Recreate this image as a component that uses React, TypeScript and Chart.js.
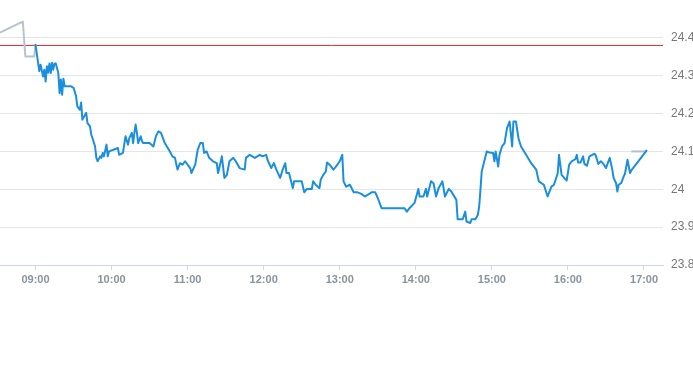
import React, { useEffect, useRef } from "react";
import { Chart, registerables } from "chart.js";

Chart.register(...registerables);

const hourLabels = ["09:00", "10:00", "11:00", "12:00", "13:00", "14:00", "15:00", "16:00", "17:00"];
const priceTicks = [23.8, 23.9, 24.0, 24.1, 24.2, 24.3, 24.4];
const prevClose = 24.38;
const axisStart = "08:32";
const axisEnd = "17:15";
const axisTop = 24.5;
const axisBottom = 23.8;

const preTimes = ["08:32", "08:50", "08:52", "08:59", "09:00"];
const prePrices = [24.414, 24.443, 24.351, 24.351, 24.382];

const postTimes = ["16:50", "17:02"];
const postPrices = [24.1, 24.1];

const sessionTimes = [
  "09:00","09:03","09:04","09:06","09:07","09:08","09:09","09:10","09:11","09:12","09:13","09:14","09:15","09:16","09:18","09:19","09:20","09:21","09:22","09:23","09:28","09:30","09:32","09:33","09:35","09:36","09:37","09:40","09:41","09:43","09:44","09:45","09:47","09:48","09:49","09:51","09:52","09:53","09:54","09:56","09:57","09:58",
  "10:02","10:05","10:06","10:09","10:11","10:13","10:14","10:16","10:17","10:18","10:19","10:20","10:21","10:23","10:24","10:25","10:30","10:33","10:35","10:37","10:39","10:42","10:46","10:48","10:50","10:52","10:54","10:56","10:58",
  "11:02","11:03","11:06","11:08","11:10","11:12","11:13","11:15","11:17","11:20","11:23","11:24","11:25","11:27","11:29","11:31","11:33","11:36","11:38","11:41","11:45","11:46","11:49","11:53","11:57","11:59",
  "12:02","12:03","12:06","12:08","12:10","12:13","12:15","12:17","12:18","12:20","12:23","12:24","12:30","12:32","12:34","12:38","12:39","12:41","12:44","12:45","12:47","12:49","12:50","12:52","12:55","12:57",
  "13:00","13:02","13:03","13:05","13:08","13:11","13:14","13:17","13:20","13:22","13:25","13:28","13:30","13:33","13:51","13:53","13:55","13:59",
  "14:02","14:03","14:06","14:08","14:09","14:12","14:14","14:16","14:18","14:21","14:23","14:26","14:28","14:32","14:33","14:37","14:39","14:40","14:43","14:44","14:47","14:49","14:50","14:51","14:52","14:54","14:56","14:58",
  "15:01","15:02","15:03","15:05","15:06","15:08","15:10","15:12","15:14","15:16","15:17","15:19","15:21","15:23","15:27","15:31","15:35","15:37","15:41","15:44","15:47","15:49","15:52","15:53","15:55","15:59",
  "16:01","16:03","16:06","16:07","16:08","16:10","16:12","16:13","16:15","16:17","16:21","16:22","16:24","16:26","16:28","16:30","16:31","16:33","16:35","16:36","16:38","16:39","16:40","16:42","16:44","16:45","16:47","16:49","16:50","17:02"
];

const sessionPrices = [
  24.382,24.312,24.329,24.298,24.316,24.285,24.325,24.308,24.332,24.307,24.334,24.316,24.332,24.332,24.307,24.254,24.290,24.250,24.292,24.272,24.272,24.268,24.246,24.219,24.210,24.229,24.184,24.202,24.175,24.166,24.144,24.135,24.113,24.083,24.074,24.087,24.083,24.096,24.087,24.118,24.087,24.100,
  24.105,24.109,24.091,24.096,24.140,24.118,24.135,24.149,24.122,24.149,24.171,24.149,24.122,24.140,24.127,24.122,24.122,24.113,24.140,24.153,24.149,24.122,24.100,24.087,24.083,24.052,24.069,24.065,24.074,
  24.056,24.043,24.065,24.105,24.122,24.122,24.096,24.100,24.083,24.074,24.069,24.043,24.056,24.087,24.030,24.038,24.074,24.083,24.074,24.056,24.052,24.083,24.091,24.083,24.091,24.087,
  24.091,24.078,24.056,24.069,24.052,24.030,24.052,24.069,24.043,24.043,24.003,24.021,24.021,23.992,24.001,24.001,24.021,24.012,24.003,24.025,24.038,24.047,24.071,24.065,24.052,24.060,
  24.074,24.091,24.021,24.007,24.012,23.992,23.992,23.988,23.981,23.985,23.992,23.992,23.977,23.950,23.950,23.941,23.950,23.964,
  24.001,23.981,23.981,24.001,23.981,24.021,24.016,23.981,24.003,24.021,23.981,24.001,23.994,23.972,23.921,23.921,23.941,23.915,23.911,23.921,23.921,23.933,23.955,23.999,24.047,24.074,24.100,24.097,
  24.096,24.074,24.100,24.060,24.091,24.113,24.122,24.162,24.179,24.113,24.179,24.179,24.135,24.113,24.091,24.069,24.052,24.021,24.012,23.981,24.007,24.012,24.043,24.091,24.038,24.023,
  24.065,24.074,24.080,24.091,24.071,24.071,24.087,24.067,24.062,24.087,24.094,24.089,24.067,24.074,24.067,24.056,24.065,24.083,24.052,24.030,24.016,23.994,24.012,24.016,24.034,24.041,24.078,24.043,24.050,24.102
];

const toMin = (t: string) => {
  const [h, m] = t.split(":").map(Number);
  return h * 60 + m;
};
const fmtMin = (v: number) => {
  const h = Math.floor(v / 60);
  const m = Math.round(v - h * 60);
  return String(h).padStart(2, "0") + ":" + String(m).padStart(2, "0");
};
const pts = (times: string[], prices: number[]) => times.map((t, i) => ({ x: toMin(t), y: prices[i] }));

const FONT = "'Liberation Sans', Arial, Helvetica, sans-serif";

export default function App() {
  const ref = useRef<HTMLCanvasElement | null>(null);

  useEffect(() => {
    if (!ref.current) return;
    const xMin = toMin(axisStart);
    const xMax = toMin(axisEnd);
    const chart = new Chart(ref.current, {
      type: "line",
      data: {
        datasets: [
          {
            data: [{ x: xMin, y: prevClose }, { x: xMax, y: prevClose }],
            borderColor: "#cc2f2f",
            borderWidth: 1,
            pointRadius: 0,
            order: 3,
          },
          {
            data: pts(preTimes, prePrices),
            borderColor: "#b9c3cd",
            borderWidth: 2,
            borderJoinStyle: "round",
            pointRadius: 0,
            order: 2,
          },
          {
            data: pts(postTimes, postPrices),
            borderColor: "#aebfd1",
            borderWidth: 2,
            pointRadius: 0,
            order: 2,
          },
          {
            data: pts(sessionTimes, sessionPrices),
            borderColor: "#1a8fdc",
            borderWidth: 2,
            borderJoinStyle: "round",
            borderCapStyle: "round",
            pointRadius: 0,
            order: 1,
          },
        ],
      },
      options: {
        animation: false,
        responsive: false,
        maintainAspectRatio: false,
        layout: { padding: { left: 0, top: 0, right: 0, bottom: 79 } },
        plugins: { legend: { display: false }, tooltip: { enabled: false } },
        scales: {
          x: {
            type: "linear",
            min: xMin,
            max: xMax,
            afterBuildTicks: (s: any) => {
              s.ticks = hourLabels.map((h) => ({ value: toMin(h) }));
            },
            afterFit: (s: any) => {
              s.height = 21;
              s.paddingLeft = 0;
              s.paddingRight = 0;
            },
            grid: {
              drawOnChartArea: false,
              drawTicks: true,
              tickLength: 5,
              color: "#ccd6eb",
            },
            border: { color: "#ccd6eb", width: 1 },
            ticks: {
              padding: 3,
              color: "#8a939e",
              font: { family: FONT, size: 11, weight: "bold" },
              maxRotation: 0,
              autoSkip: false,
              callback: (v: any) => fmtMin(Number(v)),
            },
          },
          y: {
            position: "right",
            min: axisBottom,
            max: axisTop,
            afterBuildTicks: (s: any) => {
              s.ticks = priceTicks.map((v) => ({ value: v }));
            },
            afterFit: (s: any) => {
              s.width = 30;
              s.paddingTop = 0;
              s.paddingBottom = 0;
            },
            grid: { color: "#e6e6e6", drawTicks: false, lineWidth: 1 },
            border: { display: false },
            ticks: {
              padding: 8,
              color: "#777",
              font: { family: FONT, size: 12 },
              callback: (v: any) => String(Math.round(Number(v) * 10) / 10),
            },
          },
        },
      },
    });
    return () => chart.destroy();
  }, []);

  return (
    <div style={{ position: "fixed", left: 0, top: 0, width: 693, height: 365, background: "#fff" }}>
      <canvas ref={ref} width={693} height={365} style={{ width: 693, height: 365, display: "block" }} />
    </div>
  );
}
